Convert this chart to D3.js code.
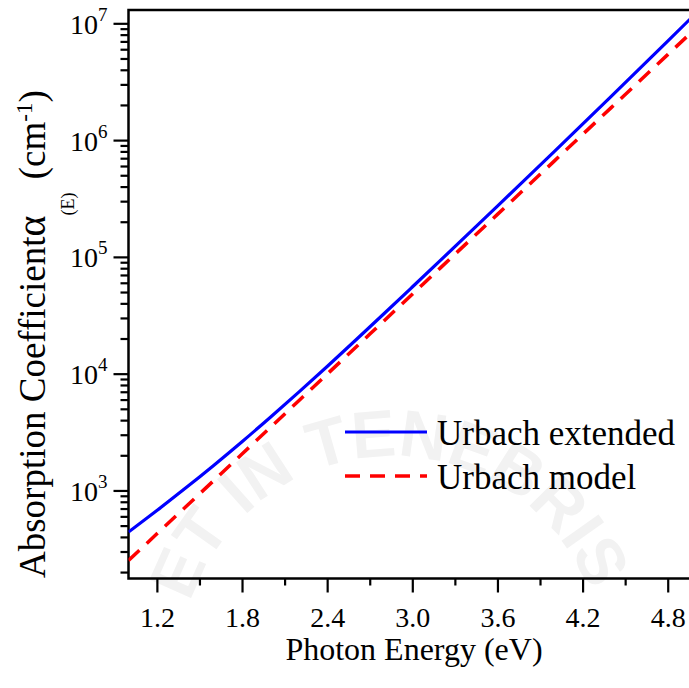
<!DOCTYPE html>
<html>
<head>
<meta charset="utf-8">
<script src="https://cdn.jsdelivr.net/npm/d3@7"></script>
<style>
  body { margin: 0; background: #fff; }
  svg { display: block; }
</style>
</head>
<body>
<script>
const width = 689;
const height = 688;

// photon energy (eV)
const energy = [1.0, 1.2, 1.4, 1.6, 1.8, 2.0, 2.2, 2.4, 2.6, 2.8, 3.0,
	3.2, 3.4, 3.6, 3.8, 4.0, 4.2, 4.4, 4.6, 4.8, 5.0];
// absorption coefficient (cm^-1)
const urbachExtended = [440, 673, 1042, 1637, 2612, 4236, 6950, 11530, 19320, 32580, 55210,
	93760, 159600, 272300, 465600, 798000, 1371000, 2360000, 4074000, 7047000, 12220000];
const urbachModel = [251, 425, 718, 1213, 2051, 3467, 5861, 9908, 16750, 28310, 47860,
	80910, 136800, 231200, 390900, 660700, 1117000, 1888000, 3192000, 5395000, 9120000];

const xMajor = [1.2, 1.8, 2.4, 3.0, 3.6, 4.2, 4.8];
const xMinor = [1.5, 2.1, 2.7, 3.3, 3.9, 4.5];
const yMajor = [1e3, 1e4, 1e5, 1e6, 1e7];

const seriesNames = ["Urbach extended", "Urbach model"];
const seriesColors = ["#0000ff", "#ff0000"];

const SERIF = "'Liberation Serif', 'Times New Roman', serif";

const PLOT_LEFT = 128.5, PLOT_RIGHT = 689, PLOT_TOP = 10, PLOT_BOTTOM = 578.5;

const svg = d3.select("body")
	.append("svg")
	.attr("width", width)
	.attr("height", height);

// faint seal watermark in the background
const seal = svg.append("g");
const sealX = 392, sealY = 668, sealR = 212;
const deg = Math.PI / 180;
const arcPath = d3.path();
arcPath.arc(sealX, sealY, sealR, -162 * deg, 20 * deg, false);
seal.append("path")
	.attr("id", "sealArc")
	.attr("d", arcPath.toString())
	.attr("fill", "none");
seal.append("text")
	.attr("font-family", "'Liberation Sans', Arial, sans-serif")
	.attr("font-weight", "bold")
	.attr("font-size", 66)
	.attr("fill", "#f2f2f2")
	.append("textPath")
	.attr("href", "#sealArc")
	.text("ET IN TENEBRIS");

const x = d3.scaleLinear().domain([1.0, 5.0]).range([PLOT_LEFT, PLOT_LEFT + 4 * 141.9]);
const y = d3.scaleLog().domain([Math.pow(10, 2.246), Math.pow(10, 7.114)]).range([PLOT_BOTTOM, PLOT_TOP]);

svg.append("clipPath").attr("id", "plotClip")
	.append("rect")
	.attr("x", PLOT_LEFT).attr("y", PLOT_TOP)
	.attr("width", PLOT_RIGHT - PLOT_LEFT).attr("height", PLOT_BOTTOM - PLOT_TOP);

// x axis ticks
const xAxisMajor = d3.axisBottom(x).tickValues(xMajor).tickSize(14).tickPadding(12)
	.tickFormat(d3.format(".1f"));
const xAxisMinor = d3.axisBottom(x).tickValues(xMinor).tickSize(7).tickFormat("");

const gxMinor = svg.append("g").attr("transform", `translate(0,${PLOT_BOTTOM})`).call(xAxisMinor);
const gx = svg.append("g").attr("transform", `translate(0,${PLOT_BOTTOM})`).call(xAxisMajor);
[gx, gxMinor].forEach(function (g) {
	g.select(".domain").remove();
	g.selectAll(".tick line").attr("stroke", "#000").attr("stroke-width", 2.2);
});
gx.selectAll(".tick text")
	.attr("font-family", SERIF)
	.attr("font-size", 28)
	.attr("fill", "#000")
	.attr("dy", 0)
	.attr("y", 48);

// y axis ticks: minor at 2..9 of each decade
const yMinor = [];
for (let e = 2; e <= 7; e++) {
	for (let m = 2; m <= 9; m++) {
		const v = m * Math.pow(10, e);
		if (v >= y.domain()[0] && v <= y.domain()[1]) yMinor.push(v);
	}
}
const yAxisMajor = d3.axisLeft(y).tickValues(yMajor).tickSize(15).tickFormat("");
const yAxisMinor = d3.axisLeft(y).tickValues(yMinor).tickSize(8).tickFormat("");
const gyMinor = svg.append("g").attr("transform", `translate(${PLOT_LEFT},0)`).call(yAxisMinor);
const gy = svg.append("g").attr("transform", `translate(${PLOT_LEFT},0)`).call(yAxisMajor);
[gy, gyMinor].forEach(function (g) {
	g.select(".domain").remove();
	g.selectAll(".tick line").attr("stroke", "#000").attr("stroke-width", 2.2);
});
gy.selectAll(".tick").each(function (d) {
	const t = d3.select(this).append("text")
		.attr("x", -21)
		.attr("y", 10)
		.attr("text-anchor", "end")
		.attr("font-family", SERIF)
		.attr("fill", "#000");
	t.append("tspan").attr("font-size", 28).text("10");
	t.append("tspan").attr("font-size", 19).attr("dy", -13).text(Math.round(Math.log10(d)));
});

// frame
svg.append("path")
	.attr("d", `M${PLOT_RIGHT + 1},${PLOT_TOP}H${PLOT_LEFT}V${PLOT_BOTTOM}H${PLOT_RIGHT + 1}`)
	.attr("fill", "none")
	.attr("stroke", "#000")
	.attr("stroke-width", 2.5);

// curves
const lineGen = d3.line()
	.x(function (d) { return x(d[0]); })
	.y(function (d) { return y(d[1]); })
	.curve(d3.curveMonotoneX);

const plot = svg.append("g").attr("clip-path", "url(#plotClip)");
plot.append("path")
	.attr("d", lineGen(energy.map(function (e, i) { return [e, urbachModel[i]]; })))
	.attr("fill", "none")
	.attr("stroke", seriesColors[1])
	.attr("stroke-width", 3.5)
	.attr("stroke-dasharray", "15,10");
plot.append("path")
	.attr("d", lineGen(energy.map(function (e, i) { return [e, urbachExtended[i]]; })))
	.attr("fill", "none")
	.attr("stroke", seriesColors[0])
	.attr("stroke-width", 3.2);

// legend
const legend = svg.append("g");
seriesNames.forEach(function (name, i) {
	const ly = 432 + i * 44;
	legend.append("line")
		.attr("x1", 345).attr("x2", 427)
		.attr("y1", ly).attr("y2", ly)
		.attr("stroke", seriesColors[i])
		.attr("stroke-width", i === 0 ? 3.2 : 3.5)
		.attr("stroke-dasharray", i === 0 ? null : "15,10");
	legend.append("text")
		.attr("x", 437)
		.attr("y", ly + 13)
		.attr("font-family", SERIF)
		.attr("font-size", 35)
		.attr("fill", "#000")
		.text(name);
});

// x axis title
svg.append("text")
	.attr("x", 414)
	.attr("y", 660)
	.attr("text-anchor", "middle")
	.attr("font-family", SERIF)
	.attr("font-size", 32)
	.attr("fill", "#000")
	.text("Photon Energy (eV)");

// y axis title
const ytitle = svg.append("text")
	.attr("transform", "translate(45,578) rotate(-90)")
	.attr("font-family", SERIF)
	.attr("font-size", 37)
	.attr("fill", "#000");
ytitle.append("tspan").text("Absorption Coefficient");
ytitle.append("tspan").attr("font-size", 40).text("\u03b1");
ytitle.append("tspan").attr("font-size", 18).attr("dy", 29).text("(E)");
ytitle.append("tspan").attr("dy", -29).attr("dx", 4).text(" (cm");
ytitle.append("tspan").attr("font-size", 23).attr("dy", -13).text("-1");
ytitle.append("tspan").attr("dy", 13).text(")");
</script>
</body>
</html>
